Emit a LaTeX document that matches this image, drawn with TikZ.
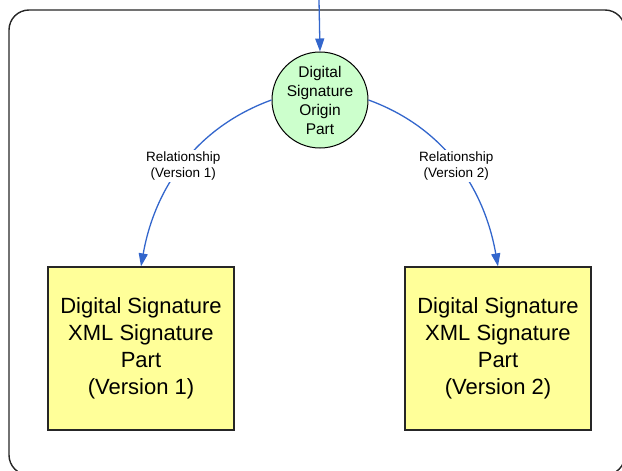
\documentclass[tikz,border=0pt]{standalone}
\usepackage{fontspec}
\setmainfont{Liberation Sans}
\usetikzlibrary{arrows.meta}
\definecolor{arrowblue}{HTML}{3366CC}
\definecolor{origingreen}{HTML}{CCFFCC}
\definecolor{partyellow}{HTML}{FFFF99}
\tikzset{
  frame/.style={draw=black!85, line width=1.4pt, rounded corners=20pt},
  origin/.style={circle, draw=black, line width=1pt, fill=origingreen, minimum size=96pt, inner sep=0pt, align=center, font=\fontsize{15.5}{19}\selectfont},
  partbox/.style={rectangle, draw=black!85, line width=1.2pt, fill=partyellow, minimum width=186pt, minimum height=163pt, inner sep=0pt, align=center, font=\fontsize{22}{27}\selectfont},
  relarrow/.style={draw=arrowblue, line width=1.3pt, -{Triangle[length=13pt,width=9pt]}},
  rellabel/.style={fill=white, inner sep=1.5pt, align=center, font=\fontsize{13.5}{16}\selectfont}
}
\begin{document}
\begin{tikzpicture}[x=1pt,y=1pt]
\useasboundingbox (0,0) rectangle (622,-471);
\draw[frame] (9,-10) rectangle (625,-475);
\coordinate (top) at (319,0);
\node[origin] (origin) at (320,-100) {Digital\\Signature\\Origin\\Part};
\node[partbox] (v1) at (141,-348.5) {Digital Signature\\XML Signature\\Part\\(Version 1)};
\node[partbox] (v2) at (498,-348.5) {Digital Signature\\XML Signature\\Part\\(Version 2)};
\draw[relarrow] (top) -- (origin.north);
\draw[relarrow] (origin.west) .. controls +(200:80) and +(80:80) .. (v1.north)
  node[rellabel, pos=0.5, yshift=-2pt] {Relationship\\(Version 1)};
\draw[relarrow] (origin.east) .. controls +(-20:80) and +(100:80) .. (v2.north)
  node[rellabel, pos=0.5, yshift=-2pt] {Relationship\\(Version 2)};
\end{tikzpicture}
\end{document}
